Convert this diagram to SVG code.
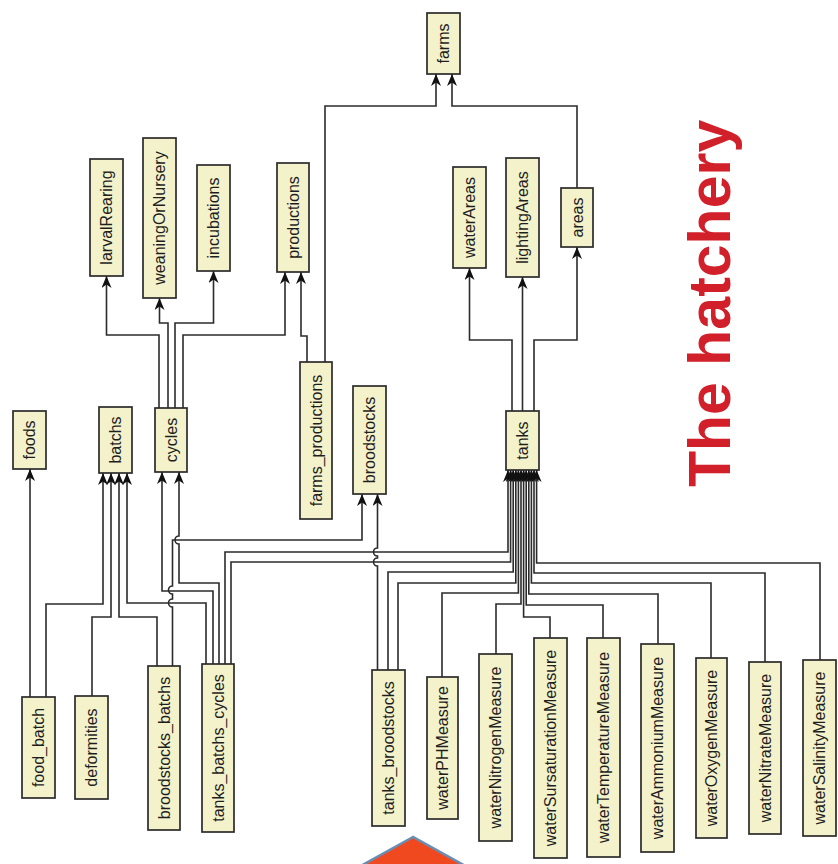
<svg xmlns="http://www.w3.org/2000/svg" width="838" height="864" viewBox="0 0 838 864">
  <style>
    .node rect { fill: #f4f2cb; stroke: #2b2b2b; stroke-width: 1.7; }
    .node text { font-family: "Liberation Sans", Arial, sans-serif; font-size: 16px; fill: #1e1e1e; text-anchor: middle; dominant-baseline: central; }
    .edges path { fill: none; stroke: #2b2b2b; stroke-width: 1.6; marker-end: url(#arr); }
    .title { font-family: "Liberation Sans", Arial, sans-serif; font-weight: bold; font-size: 59px; fill: #d2202b; }
  </style>
  <defs>
    <marker id="arr" viewBox="0 0 12 10" refX="12" refY="5" markerWidth="12" markerHeight="10" markerUnits="userSpaceOnUse" orient="auto">
      <path d="M0,0 L12,5 L0,10 L3.5,5 z" fill="#111"/>
    </marker>
  </defs>
  <rect width="838" height="864" fill="#fff"/>

  <!-- connectors (source -> target, arrow at target) -->
  <g id="edges" class="edges">
    <path d="M30,697 V469"/>
    <path d="M46,697 V604 H103 V473"/>
    <path d="M92,696 V617 H111 V473"/>
    <path d="M157,666 V617 H119 V473"/>
    <path d="M206,664 V603 H127 V473"/>
    <path d="M172.5,666 V607 A4,4 0 0,1 172.5,599 V594 A4,4 0 0,1 172.5,586 V540 H362 V494"/>
    <path d="M213,664 V591 H162 V472"/>
    <path d="M219,664 V583 H179 V544 A4,4 0 0,1 179,536 V472"/>
    <path d="M225,664 V552 H508 V470"/>
    <path d="M231,664 V562 H510.6 V470"/>
    <path d="M377.5,670 V566 A4,4 0 0,1 377.5,558 V556 A4,4 0 0,1 377.5,548 V494"/>
    <path d="M388,670 V572 H513.2 V470"/>
    <path d="M398,670 V583 H515.8 V470"/>
    <path d="M442,677 V593 H518.4 V470"/>
    <path d="M496,654 V604 H521 V470"/>
    <path d="M550,638 V617 H523.6 V470"/>
    <path d="M603,638 V605 H526.2 V470"/>
    <path d="M658,644 V594 H528.8 V470"/>
    <path d="M711,658 V583 H531.4 V470"/>
    <path d="M765,662 V573 H534 V470"/>
    <path d="M820,660 V563 H536.6 V470"/>
    <path d="M512,411 V340 H469.5 V268"/>
    <path d="M522.5,411 V277"/>
    <path d="M534,411 V340 H577 V247"/>
    <path d="M577,188 V106 H452 V74"/>
    <path d="M325,362 V106 H436 V74"/>
    <path d="M307,362 V336 H301 V272"/>
    <path d="M159,408 V335 H106.5 V276"/>
    <path d="M168,408 V323 H159.5 V298"/>
    <path d="M175,408 V323 H213.5 V271"/>
    <path d="M183,408 V335 H285 V272"/>
  </g>

  <!-- tables -->
  <g id="foods" class="node"><rect x="13" y="411" width="33" height="58"/><text transform="translate(29.5,440) rotate(-90)">foods</text></g>
  <g id="batchs" class="node"><rect x="99" y="407" width="33" height="66"/><text transform="translate(115.5,440) rotate(-90)">batchs</text></g>
  <g id="cycles" class="node"><rect x="155" y="408" width="32" height="64"/><text transform="translate(171,440) rotate(-90)">cycles</text></g>
  <g id="food_batch" class="node"><rect x="22" y="697" width="33" height="101"/><text transform="translate(38.5,747.5) rotate(-90)">food_batch</text></g>
  <g id="deformities" class="node"><rect x="75" y="696" width="33" height="103"/><text transform="translate(91.5,747.5) rotate(-90)">deformities</text></g>
  <g id="broodstocks_batchs" class="node"><rect x="148" y="666" width="32" height="164"/><text transform="translate(164,748) rotate(-90)">broodstocks_batchs</text></g>
  <g id="tanks_batchs_cycles" class="node"><rect x="202" y="664" width="32" height="168"/><text transform="translate(218,748) rotate(-90)">tanks_batchs_cycles</text></g>
  <g id="tanks_broodstocks" class="node"><rect x="372" y="670" width="33" height="156"/><text transform="translate(388.5,748) rotate(-90)">tanks_broodstocks</text></g>
  <g id="waterPHMeasure" class="node"><rect x="427" y="677" width="31" height="142"/><text transform="translate(442.5,748) rotate(-90)">waterPHMeasure</text></g>
  <g id="waterNitrogenMeasure" class="node"><rect x="479" y="654" width="33" height="187"/><text transform="translate(495.5,747.5) rotate(-90)">waterNitrogenMeasure</text></g>
  <g id="waterSursaturationMeasure" class="node"><rect x="534" y="638" width="33" height="220"/><text transform="translate(550.5,748) rotate(-90)">waterSursaturationMeasure</text></g>
  <g id="waterTemperatureMeasure" class="node"><rect x="587" y="638" width="33" height="219"/><text transform="translate(603.5,747.5) rotate(-90)">waterTemperatureMeasure</text></g>
  <g id="waterAmmoniumMeasure" class="node"><rect x="641" y="644" width="33" height="208"/><text transform="translate(657.5,748) rotate(-90)">waterAmmoniumMeasure</text></g>
  <g id="waterOxygenMeasure" class="node"><rect x="696" y="658" width="31" height="180"/><text transform="translate(711.5,748) rotate(-90)">waterOxygenMeasure</text></g>
  <g id="waterNitrateMeasure" class="node"><rect x="749" y="662" width="32" height="172"/><text transform="translate(765,748) rotate(-90)">waterNitrateMeasure</text></g>
  <g id="waterSalinityMeasure" class="node"><rect x="803" y="660" width="33" height="176"/><text transform="translate(819.5,748) rotate(-90)">waterSalinityMeasure</text></g>
  <g id="larvalRearing" class="node"><rect x="90" y="159" width="33" height="117"/><text transform="translate(106.5,217.5) rotate(-90)">larvalRearing</text></g>
  <g id="weaningOrNursery" class="node"><rect x="143" y="138" width="33" height="160"/><text transform="translate(159.5,218) rotate(-90)">weaningOrNursery</text></g>
  <g id="incubations" class="node"><rect x="197" y="165" width="33" height="106"/><text transform="translate(213.5,218) rotate(-90)">incubations</text></g>
  <g id="productions" class="node"><rect x="277" y="163" width="32" height="109"/><text transform="translate(293,217.5) rotate(-90)">productions</text></g>
  <g id="farms_productions" class="node"><rect x="300" y="362" width="32" height="157"/><text transform="translate(316,440.5) rotate(-90)">farms_productions</text></g>
  <g id="broodstocks" class="node"><rect x="353" y="386" width="33" height="108"/><text transform="translate(369.5,440) rotate(-90)">broodstocks</text></g>
  <g id="tanks" class="node"><rect x="506" y="411" width="33" height="59"/><text transform="translate(522.5,440.5) rotate(-90)">tanks</text></g>
  <g id="farms" class="node"><rect x="427" y="13" width="33" height="61"/><text transform="translate(443.5,43.5) rotate(-90)">farms</text></g>
  <g id="waterAreas" class="node"><rect x="453" y="167" width="33" height="101"/><text transform="translate(469.5,217.5) rotate(-90)">waterAreas</text></g>
  <g id="lightingAreas" class="node"><rect x="506" y="158" width="33" height="119"/><text transform="translate(522.5,217.5) rotate(-90)">lightingAreas</text></g>
  <g id="areas" class="node"><rect x="561" y="188" width="32" height="59"/><text transform="translate(577,217.5) rotate(-90)">areas</text></g>

  <!-- heading -->
  <text class="title" transform="translate(730,487) rotate(-90)">The hatchery</text>

  <!-- pointer shape at the bottom edge -->
  <polygon points="413,837 357,868 469,868" fill="#f0481f" stroke="#6a8db3" stroke-width="2.5" stroke-linejoin="miter"/>
</svg>
